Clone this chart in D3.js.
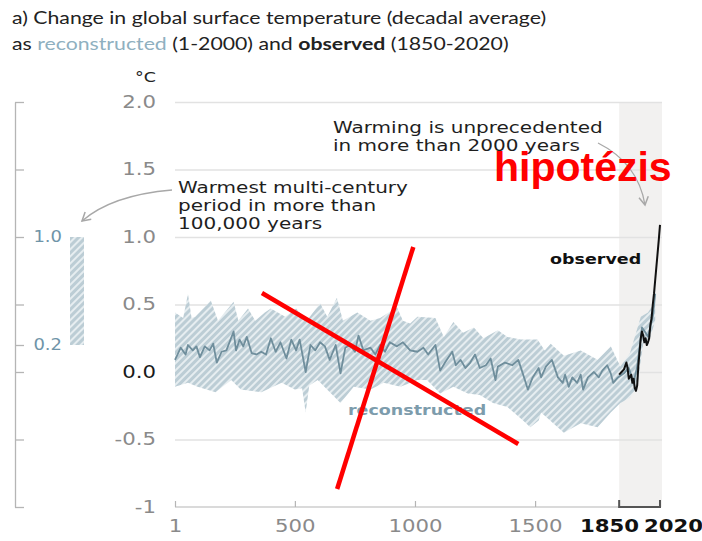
<!DOCTYPE html>
<html lang="en">
<head>
<meta charset="UTF-8">
<title>chart</title>
<style>
  body { margin: 0; background: #fff; }
  svg { display: block; }
</style>
</head>
<body>
<script src="https://d3js.org/d3.v7.min.js"></script>
<script>
// reconstructed median (decadal average)
const reconYears = [1,25,45,55,75,90,105,125,145,160,175,195,215,245,255,270,285,300,320,340,360,380,400,420,440,465,485,505,520,545,565,585,605,625,645,670,690,710,730,750,765,785,815,835,855,875,895,925,950,980,1010,1035,1055,1085,1105,1125,1155,1170,1190,1210,1230,1250,1270,1295,1315,1335,1345,1375,1405,1430,1445,1470,1490,1515,1525,1545,1570,1595,1615,1625,1640,1655,1675,1690,1700,1720,1745,1765,1780,1800,1815,1825,1845,1870,1890,1910,1925,1945,1960,1970,1990,2000];
const reconValues = [0.09,0.18,0.13,0.20,0.16,0.19,0.11,0.19,0.16,0.21,0.07,0.15,0.16,0.30,0.16,0.24,0.19,0.26,0.14,0.13,0.15,0.13,0.25,0.15,0.22,0.10,0.24,0.16,0.24,0.00,0.20,0.16,0.22,0.19,0.09,0.20,-0.01,0.18,0.20,0.15,0.27,0.16,0.18,0.13,0.20,0.15,0.22,0.19,0.22,0.16,0.15,0.18,0.13,0.20,0.01,0.07,0.15,0.05,0.09,0.03,0.07,0.13,0.03,0.05,0.10,-0.06,0.04,0.07,0.05,0.09,0.01,-0.13,-0.04,0.03,-0.04,0.04,0.09,-0.04,-0.08,-0.02,-0.11,-0.04,-0.08,-0.02,-0.13,-0.04,0.00,-0.04,0.01,0.05,-0.01,-0.08,-0.04,-0.01,0.03,-0.08,0.04,0.33,0.29,0.26,0.41,0.58];

// very likely range (upper / lower edge of the hatched band)
const upperYears = [1,35,55,70,85,150,180,245,265,305,335,375,400,460,505,550,605,635,675,700,760,815,855,925,950,980,1010,1085,1120,1160,1200,1245,1285,1345,1385,1440,1510,1540,1565,1620,1690,1760,1815,1855,1895,1940,1970,1995,2000];
const upperValues = [0.44,0.40,0.58,0.40,0.41,0.53,0.38,0.52,0.38,0.47,0.38,0.44,0.47,0.41,0.47,0.38,0.51,0.41,0.55,0.38,0.44,0.38,0.40,0.48,0.38,0.36,0.41,0.40,0.26,0.37,0.29,0.33,0.25,0.31,0.26,0.24,0.24,0.16,0.21,0.12,0.16,0.09,0.19,0.04,0.14,0.41,0.44,0.51,0.63];
const lowerYears = [1,55,95,170,235,275,360,445,500,530,545,560,595,690,745,815,870,940,1010,1050,1105,1160,1220,1270,1325,1385,1450,1480,1515,1525,1620,1690,1760,1815,1855,1895,1925,1950,1980,2000];
const lowerValues = [-0.11,-0.08,-0.11,-0.15,-0.06,-0.13,-0.15,-0.08,-0.13,-0.12,-0.30,-0.10,-0.06,-0.23,-0.11,-0.13,-0.08,-0.11,-0.06,-0.06,-0.16,-0.11,-0.16,-0.17,-0.23,-0.26,-0.36,-0.41,-0.36,-0.30,-0.45,-0.38,-0.41,-0.30,-0.23,-0.19,-0.11,0.21,0.26,0.38];

// observed (1850-2020)
const obsYears = [1850,1860,1870,1880,1885,1890,1900,1905,1910,1915,1920,1925,1930,1935,1940,1945,1950,1955,1960,1965,1970,1975,1980,1985,1990,1995,2000,2005,2010,2015,2020];
const obsValues = [-0.02,0.00,0.02,0.07,0.03,-0.05,-0.02,-0.08,-0.05,-0.12,-0.14,-0.10,0.05,0.15,0.25,0.30,0.27,0.22,0.25,0.20,0.22,0.25,0.35,0.40,0.50,0.58,0.68,0.78,0.88,0.98,1.09];

// warmest multi-century period in more than 100,000 years
const warmRange = [0.2, 1.0];

const yTicks = [-1, -0.5, 0, 0.5, 1, 1.5, 2];
const yTickLabels = ['-1', '-0.5', '0.0', '0.5', '1.0', '1.5', '2.0'];
const xTicks = [1, 500, 1000, 1500];
const xTickLabels = ['1', '500', '1000', '1500'];
const recentSpan = [1850, 2020];
const leftTicks = [-1, -0.5, 0, 0.2, 0.5, 1, 1.5, 2];

// red X drawn over the plot, in data units
const crossLines = [
  [[363, 0.585], [1430, -0.533]],
  [[993, 0.926], [676, -0.867]]
];

const width = 702;
const height = 541;
const svg = d3.select('body').append('svg')
  .attr('width', width)
  .attr('height', height);

const x = d3.scaleLinear().domain([1, 2020]).range([175, 660]);
const y = d3.scaleLinear().domain([-1, 2]).range([507, 102]);

const tickFont = 'DejaVu Sans, Verdana, sans-serif';
const blueGrey = '#6f8e9c';
const stretch = 1.25; // the source picture is widened horizontally

// places a text at (px, py) and widens it like the source
function wide(sel, px, py) {
  return sel.attr('x', 0).attr('y', 0)
    .attr('transform', `translate(${px},${py}) scale(${stretch},1)`);
}

// hatch pattern
const defs = svg.append('defs');
const pat = defs.append('pattern')
  .attr('id', 'hatch')
  .attr('patternUnits', 'userSpaceOnUse')
  .attr('width', 5)
  .attr('height', 5)
  .attr('patternTransform', 'rotate(45)');
pat.append('rect').attr('width', 5).attr('height', 5).attr('fill', '#bccdd5');
pat.append('rect').attr('width', 2).attr('height', 5).attr('fill', '#e6edf0');

defs.append('marker')
  .attr('id', 'arrow')
  .attr('viewBox', '0 0 10 10')
  .attr('refX', 8).attr('refY', 5)
  .attr('markerWidth', 9).attr('markerHeight', 9)
  .attr('orient', 'auto-start-reverse')
  .append('path')
  .attr('d', 'M1,1 L8,5 L1,9')
  .attr('fill', 'none')
  .attr('stroke', '#a8a8a8')
  .attr('stroke-width', 1.3);

// title
const title = wide(svg.append('text'), 12, 24)
  .attr('font-family', 'Lato, sans-serif')
  .attr('font-size', 17)
  .attr('fill', '#222');
title.append('tspan').text('a) Change in global surface temperature (decadal average)');
const t2 = wide(svg.append('text'), 12, 50)
  .attr('font-family', 'Lato, sans-serif')
  .attr('font-size', 17)
  .attr('fill', '#222');
t2.append('tspan').text('as ');
t2.append('tspan').attr('fill', '#8fb0c0').text('reconstructed');
t2.append('tspan').text(' (1-2000) and ');
t2.append('tspan').attr('font-weight', 'bold').text('observed');
t2.append('tspan').text(' (1850-2020)');

// shaded observed period
svg.append('rect')
  .attr('x', x(recentSpan[0]))
  .attr('y', y(2))
  .attr('width', x(recentSpan[1]) - x(recentSpan[0]) + 2)
  .attr('height', y(-1) - y(2))
  .attr('fill', '#f2f1f0');

// y axis with grid lines
const yAxis = svg.append('g')
  .attr('transform', `translate(${x(1)},0)`)
  .call(d3.axisLeft(y)
    .tickValues(yTicks)
    .tickSize(-(x(2020) + 2 - x(1)))
    .tickPadding(19)
    .tickFormat((d, i) => yTickLabels[i]));
yAxis.select('.domain').remove();
yAxis.selectAll('.tick line')
  .attr('stroke', '#e2e2e2')
  .attr('stroke-width', 1.5)
  .filter(d => d === -1).remove();
yAxis.selectAll('.tick text')
  .attr('x', 0)
  .attr('transform', `translate(-19,0) scale(${stretch},1)`)
  .attr('font-family', tickFont)
  .attr('font-size', 17)
  .attr('fill', d => d === 0 ? '#1a1a1a' : '#8a8a8a');

wide(svg.append('text'), 156, 82)
  .attr('text-anchor', 'end')
  .attr('font-family', tickFont)
  .attr('font-size', 14)
  .attr('fill', '#222')
  .text('°C');

// x axis
const xAxis = svg.append('g')
  .attr('transform', `translate(0,${y(-1)})`)
  .call(d3.axisBottom(x)
    .tickValues(xTicks)
    .tickSize(-6)
    .tickSizeOuter(0)
    .tickPadding(13)
    .tickFormat((d, i) => xTickLabels[i]));
xAxis.select('.domain').remove();
xAxis.selectAll('.tick line').attr('stroke', '#b5b5b5').attr('stroke-width', 1.2);
xAxis.selectAll('.tick text')
  .attr('y', 0)
  .attr('transform', `translate(0,13) scale(${stretch},1)`)
  .attr('font-family', tickFont)
  .attr('font-size', 17)
  .attr('fill', '#8a8a8a');
xAxis.append('line')
  .attr('x1', x(1)).attr('x2', x(recentSpan[0]))
  .attr('stroke', '#b5b5b5').attr('stroke-width', 1.2);
xAxis.append('path')
  .attr('d', `M${x(recentSpan[0])},-7V0H${x(recentSpan[1])}V-7`)
  .attr('fill', 'none')
  .attr('stroke', '#555')
  .attr('stroke-width', 2);
xAxis.selectAll('.recent')
  .data(recentSpan)
  .join('text')
  .attr('x', 0)
  .attr('y', 0)
  .attr('transform', (d, i) => `translate(${i === 0 ? x(d) + 20 : x(d) - 16},13) scale(${stretch},1)`)
  .attr('dy', '0.71em')
  .attr('text-anchor', (d, i) => i === 0 ? 'end' : 'start')
  .attr('font-family', tickFont)
  .attr('font-size', 17)
  .attr('font-weight', 'bold')
  .attr('fill', '#111')
  .text(d => d);

// left panel: warmest multi-century period
const leftAxis = svg.append('g')
  .attr('transform', 'translate(15,0)')
  .call(d3.axisRight(y).tickValues(leftTicks).tickSize(9).tickSizeOuter(0).tickFormat(''));
leftAxis.selectAll('line, path').attr('stroke', '#b5b5b5').attr('stroke-width', 1.3);

svg.append('rect')
  .attr('x', 70)
  .attr('y', y(warmRange[1]))
  .attr('width', 14)
  .attr('height', y(warmRange[0]) - y(warmRange[1]))
  .attr('fill', 'url(#hatch)');

svg.selectAll('.warmLabel')
  .data(warmRange)
  .join('text')
  .attr('x', 0)
  .attr('y', 0)
  .attr('transform', d => `translate(62,${y(d)}) scale(1.2,1)`)
  .attr('dy', '0.36em')
  .attr('text-anchor', 'end')
  .attr('font-family', tickFont)
  .attr('font-size', 15)
  .attr('fill', '#6f94a8')
  .text(d => d.toFixed(1));

// hatched band
const upperPts = upperYears.map((d, i) => [d, upperValues[i]]);
const lowerPts = lowerYears.map((d, i) => [d, lowerValues[i]]).reverse();
const bandLine = d3.line().x(d => x(d[0])).y(d => y(d[1]));
svg.append('path')
  .attr('d', bandLine(upperPts.concat(lowerPts)) + 'Z')
  .attr('fill', 'url(#hatch)');

// reconstructed median
const line = d3.line().x(d => x(d[0])).y(d => y(d[1]));
svg.append('path')
  .datum(reconYears.map((d, i) => [d, reconValues[i]]))
  .attr('d', line)
  .attr('fill', 'none')
  .attr('stroke', blueGrey)
  .attr('stroke-width', 1.8)
  .attr('stroke-linejoin', 'round');

// observed
svg.append('path')
  .datum(obsYears.map((d, i) => [d, obsValues[i]]))
  .attr('d', line)
  .attr('fill', 'none')
  .attr('stroke', '#111')
  .attr('stroke-width', 2)
  .attr('stroke-linejoin', 'round');

// annotations
const annFont = 'DejaVu Sans, Verdana, sans-serif';
function multiline(lines, px, py, lh) {
  lines.forEach((s, i) => {
    wide(svg.append('text'), px, py + i * lh)
      .attr('font-family', annFont)
      .attr('font-size', 16)
      .attr('fill', '#1e1e1e')
      .text(s);
  });
}
multiline(['Warmest multi-century', 'period in more than', '100,000 years'], 178, 193, 18);
multiline(['Warming is unprecedented', 'in more than 2000 years'], 333, 133, 18);

svg.append('path')
  .attr('d', 'M172,190 Q112,195 82,221')
  .attr('fill', 'none')
  .attr('stroke', '#a8a8a8')
  .attr('stroke-width', 1.3)
  .attr('marker-end', 'url(#arrow)');
svg.append('path')
  .attr('d', 'M598,143 Q638,163 645,205')
  .attr('fill', 'none')
  .attr('stroke', '#a8a8a8')
  .attr('stroke-width', 1.3)
  .attr('marker-end', 'url(#arrow)');

wide(svg.append('text'), 550, 264)
  .attr('font-family', annFont)
  .attr('font-size', 14)
  .attr('font-weight', 'bold')
  .attr('fill', '#111')
  .text('observed');
wide(svg.append('text'), 348, 415)
  .attr('font-family', annFont)
  .attr('font-size', 14)
  .attr('font-weight', 'bold')
  .attr('fill', '#7d9cac')
  .text('reconstructed');

// red overlay
svg.selectAll('.cross')
  .data(crossLines)
  .join('line')
  .attr('x1', d => x(d[0][0])).attr('y1', d => y(d[0][1]))
  .attr('x2', d => x(d[1][0])).attr('y2', d => y(d[1][1]))
  .attr('stroke', '#ff0000')
  .attr('stroke-width', 4.5);

svg.append('text')
  .attr('x', 494).attr('y', 181)
  .attr('font-family', 'Liberation Sans, Arial, sans-serif')
  .attr('font-size', 41)
  .attr('font-weight', 'bold')
  .attr('fill', '#ff0000')
  .text('hipotézis');
</script>
</body>
</html>
